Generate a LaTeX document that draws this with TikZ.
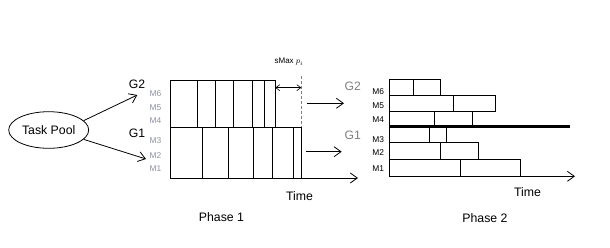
\documentclass[tikz,border=0pt]{standalone}
\usepackage{fontspec}
\setmainfont{Liberation Sans}
\usetikzlibrary{arrows.meta,shapes.geometric}
\definecolor{mgray}{rgb}{0.55,0.57,0.64}
\definecolor{ggray}{rgb}{0.5,0.5,0.5}
\begin{document}
\begin{tikzpicture}[x=1pt,y=-1pt,
  line width=0.8pt,
  barb/.style={-{Straight Barb[length=7pt,width=10pt,line width=0.8pt]}},
  mlab/.style={font=\fontsize{8.4}{9}\selectfont,text=mgray,inner sep=0pt},
  mlabb/.style={font=\fontsize{8.4}{9}\selectfont,text=black,inner sep=0pt,anchor=east},
  glab/.style={font=\fontsize{12.2}{13}\selectfont,inner sep=0pt},
  plab/.style={font=\fontsize{12.3}{13}\selectfont,inner sep=0pt}]
\useasboundingbox (0,0) rectangle (610,247);

% task pool and group arrows
\node[ellipse,draw,minimum width=80pt,minimum height=36.6pt,inner sep=0pt,
  font=\fontsize{12.3}{13}\selectfont] (pool) at (48.7,130) {Task Pool};
\node[glab] (g2a) at (137,84.5) {G2};
\node[glab] (g1a) at (137,133.5) {G1};
\coordinate (to2) at (137.3,95);
\coordinate (to1) at (146,159);
\draw[barb] (pool.15) -- (to2);
\draw[barb] (pool.-15) -- (to1);

% machine labels, phase 1
\foreach \m/\y in {M6/93.3,M5/107.3,M4/121,M3/141,M2/156,M1/168.7}
  \node[mlab] (p1\m) at (155.5,\y) {\m};

% phase 1 schedule
\draw (170.3,80.7) rectangle (275.3,127.3);
\foreach \x in {197.3,215.3,233.3,252.7,264.7}
  \draw (\x,80.7) -- (\x,127.3);
\draw (170.3,127.3) rectangle (301.3,178);
\foreach \x in {202.3,228.3,253.7,272.7,293.7}
  \draw (\x,127.3) -- (\x,178);
\coordinate (ax1s) at (170.3,178);
\coordinate (ax1e) at (358,178);
\draw[barb] (ax1s) -- (ax1e);
\node[plab] (time1) at (299.5,196) {Time};
\node[plab] (ph1) at (221.5,217) {Phase 1};

% makespan gap
\draw[ggray,line width=1.2pt,dash pattern=on 3pt off 2pt] (301.3,76) -- (301.3,127.3);
\coordinate (gapl) at (275.3,87.7);
\coordinate (gapr) at (301.3,87.7);
\draw[{Straight Barb[length=4pt,width=6pt]}-{Straight Barb[length=4pt,width=6pt]},line width=0.6pt] (gapl) -- (gapr);
\node[font=\fontsize{8}{9}\selectfont,inner sep=0pt] (smax) at (289,62) {sMax $p_i$};

% hand-over arrows
\coordinate (h2s) at (306.7,103.3);
\coordinate (h2e) at (344,103.3);
\coordinate (h1s) at (305.7,151.7);
\coordinate (h1e) at (341.7,151.7);
\draw[barb] (h2s) -- (h2e);
\draw[barb] (h1s) -- (h1e);

% phase 2 schedule
\node[glab,text=ggray] (g2b) at (352.7,86) {G2};
\node[glab,text=ggray] (g1b) at (352.7,135) {G1};
\foreach \m/\y in {M6/91.7,M5/106,M4/120,M3/139.3,M2/152.7,M1/168.3}
  \node[mlabb] (p2\m) at (384.5,\y) {\m};
% M6
\draw (389.3,79.3) rectangle (440.7,95);  \draw (413.3,79.3) -- (413.3,95);
% M5
\draw (389.3,95) rectangle (495.3,111.3); \draw (453.7,95) -- (453.7,111.3);
% M4
\draw (389.3,111.3) rectangle (472.7,126); \draw (434.7,111.3) -- (434.7,126);
% M3
\draw (389.3,126) rectangle (446.3,142.7); \draw (429.3,126) -- (429.3,142.7);
% M2
\draw (389.3,142.7) rectangle (478.7,159.3); \draw (440.7,142.7) -- (440.7,159.3);
% M1
\draw (389.3,159.3) rectangle (520.7,176.3); \draw (460.3,159.3) -- (460.3,176.3);
% group separator
\draw[line width=3pt] (389.3,126) -- (570,126);
\coordinate (ax2s) at (389.3,176.3);
\coordinate (ax2e) at (575,176.3);
\draw[barb] (ax2s) -- (ax2e);
\node[plab] (time2) at (527.5,192.5) {Time};
\node[plab] (ph2) at (485,218) {Phase 2};
\end{tikzpicture}
\end{document}
